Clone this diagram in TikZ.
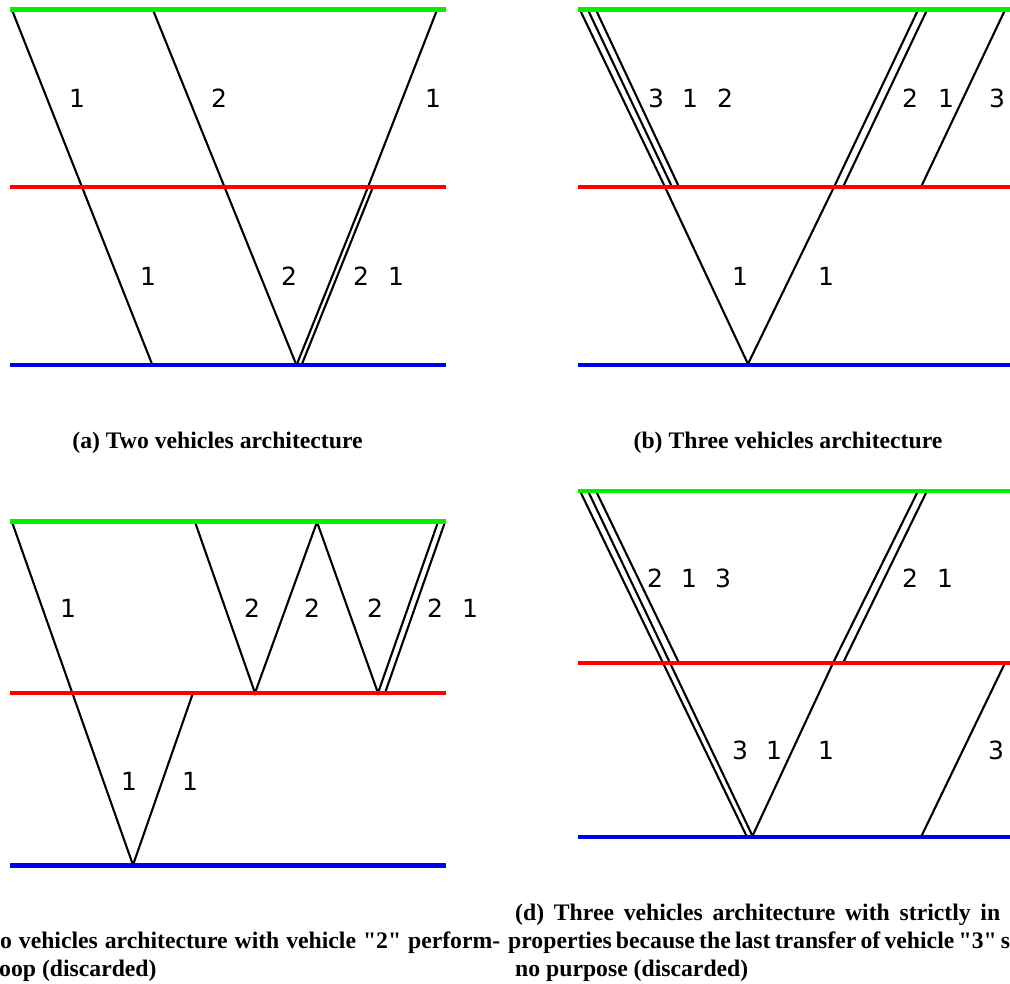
\documentclass[tikz,border=0pt]{standalone}
\usepackage{fontspec}
\newfontfamily\labfont{DejaVu Sans}
\newfontfamily\capfont{Liberation Serif}
\tikzset{
  lvl/.style={line width=4.8pt},
  grn/.style={lvl, draw={rgb,255:red,0;green,240;blue,0}},
  rd/.style={lvl, draw={rgb,255:red,255;green,0;blue,0}},
  bl/.style={lvl, draw={rgb,255:red,0;green,0;blue,235}},
  veh/.style={line width=2.1pt, draw=black},
  lbl/.style={font=\labfont\fontsize{25}{28}\selectfont, inner sep=0pt, anchor=center},
  captxt/.style={font=\capfont\bfseries\fontsize{23.7}{28}\selectfont, inner sep=0pt}
}
\begin{document}
\begin{tikzpicture}[x=1pt,y=-1pt]
\useasboundingbox (0,0) rectangle (1010,984);
\clip (0,0) rectangle (1010,984);
\fill[white] (0,0) rectangle (1010,984);

% ---------- (a) ----------
\coordinate (aG1) at (12,10);   \coordinate (aB1) at (152,364);
\coordinate (aG2) at (153,10);  \coordinate (aB2) at (296,364);
\coordinate (aG3) at (437,10);  \coordinate (aR3) at (368,187);
\coordinate (aR4) at (373,187); \coordinate (aB3) at (297,364);
\coordinate (aB4) at (302,364);
\draw[veh] (aG1) -- (aB1);
\draw[veh] (aG2) -- (aB2);
\draw[veh] (aG3) -- (aR3) -- (aB3);
\draw[veh] (aR4) -- (aB4);
\draw[grn] (10,9.5) coordinate (aGl) -- (446,9.5) coordinate (aGr);
\draw[rd] (10,187) coordinate (aRl) -- (446,187) coordinate (aRr);
\draw[bl] (10,365) coordinate (aBl) -- (446,365) coordinate (aBr);
\node[lbl] (la1) at (77,98) {1};
\node[lbl] (la2) at (219,98) {2};
\node[lbl] (la3) at (433,98) {1};
\node[lbl] (la4) at (148,276) {1};
\node[lbl] (la5) at (289,276) {2};
\node[lbl] (la6) at (361,276) {2};
\node[lbl] (la7) at (396,276) {1};
\node[captxt, anchor=base] (capa) at (217.5,448) {(a) Two vehicles architecture};

% ---------- (b) ----------
\coordinate (bG1) at (580,10); \coordinate (bR1) at (665,187); \coordinate (bBv) at (748,364);
\coordinate (bG2) at (588,10); \coordinate (bR2) at (672,187);
\coordinate (bG3) at (596,10); \coordinate (bR3) at (679,187);
\coordinate (bR4) at (834,187); \coordinate (bG4) at (918,10);
\coordinate (bR5) at (843,187); \coordinate (bG5) at (927,10);
\coordinate (bR6) at (921,187); \coordinate (bG6) at (1005,10);
\draw[veh] (bG1) -- (bR1) -- (bBv) -- (bR4) -- (bG4);
\draw[veh] (bG2) -- (bR2);
\draw[veh] (bG3) -- (bR3);
\draw[veh] (bR5) -- (bG5);
\draw[veh] (bR6) -- (bG6);
\draw[grn] (578,9.5) -- (1012,9.5);
\draw[rd] (578,187) -- (1012,187);
\draw[bl] (578,365) -- (1012,365);
\node[lbl] (lb1) at (656,98) {3};
\node[lbl] (lb2) at (690,98) {1};
\node[lbl] (lb3) at (725,98) {2};
\node[lbl] (lb4) at (910,98) {2};
\node[lbl] (lb5) at (946,98) {1};
\node[lbl] (lb6) at (997,98) {3};
\node[lbl] (lb7) at (740,276) {1};
\node[lbl] (lb8) at (826,276) {1};
\node[captxt, anchor=base] (capb) at (788,448) {(b) Three vehicles architecture};

% ---------- (c) ----------
\coordinate (cG1) at (12,522); \coordinate (cB1) at (133,865); \coordinate (cR1) at (193,693);
\coordinate (cG2) at (195,522); \coordinate (cR2) at (255,693); \coordinate (cG3) at (317,522);
\coordinate (cR3) at (378,693); \coordinate (cG4) at (438,522);
\coordinate (cR4) at (385,693); \coordinate (cG5) at (445,522);
\draw[veh] (cG1) -- (cB1) -- (cR1);
\draw[veh] (cG2) -- (cR2) -- (cG3) -- (cR3) -- (cG4);
\draw[veh] (cR4) -- (cG5);
\draw[grn] (10,521.5) -- (446,521.5);
\draw[rd] (10,693) -- (446,693);
\draw[bl] (10,865.5) -- (446,865.5);
\node[lbl] (lc1) at (68,608) {1};
\node[lbl] (lc2) at (252,608) {2};
\node[lbl] (lc3) at (312,608) {2};
\node[lbl] (lc4) at (375,608) {2};
\node[lbl] (lc5) at (435,608) {2};
\node[lbl] (lc6) at (470,608) {1};
\node[lbl] (lc7) at (129,781) {1};
\node[lbl] (lc8) at (190,781) {1};
\node[captxt, anchor=base west] (capc1) at (0,948) {\makebox[500pt][s]{o vehicles architecture with vehicle "2" perform-}};
\node[captxt, anchor=base west] (capc2) at (-1,976) {oop (discarded)};

% ---------- (d) ----------
\coordinate (dG1) at (580,491); \coordinate (dR1) at (665,663); \coordinate (dB1) at (747,837);
\coordinate (dG2) at (588,491); \coordinate (dR2) at (672,663); \coordinate (dB2) at (753,837);
\coordinate (dG3) at (596,491); \coordinate (dR3) at (679,663);
\coordinate (dBv) at (752,837); \coordinate (dR4) at (833,663); \coordinate (dG4) at (918,491);
\coordinate (dR5) at (843,663); \coordinate (dG5) at (927,491);
\coordinate (dB6) at (921,837); \coordinate (dR6) at (1005,663);
\draw[veh] (dG1) -- (dB1);
\draw[veh] (dG2) -- (dB2);
\draw[veh] (dG3) -- (dR3);
\draw[veh] (dBv) -- (dR4) -- (dG4);
\draw[veh] (dR5) -- (dG5);
\draw[veh] (dB6) -- (dR6);
\draw[grn] (578,491) -- (1012,491);
\draw[rd] (578,663) -- (1012,663);
\draw[bl] (578,837) -- (1012,837);
\node[lbl] (ld1) at (655,578) {2};
\node[lbl] (ld2) at (689,578) {1};
\node[lbl] (ld3) at (723,578) {3};
\node[lbl] (ld4) at (910,578) {2};
\node[lbl] (ld5) at (945,578) {1};
\node[lbl] (ld6) at (740,750) {3};
\node[lbl] (ld7) at (774,750) {1};
\node[lbl] (ld8) at (826,750) {1};
\node[lbl] (ld9) at (996,750) {3};
\node[captxt, anchor=base west] (capd1) at (515,920) {\makebox[485pt][s]{(d) Three vehicles architecture with strictly in}};
\node[captxt, anchor=base west] (capd2) at (508,948) {\makebox[502pt][s]{properties because the last transfer of vehicle "3" s}};
\node[captxt, anchor=base west] (capd3) at (515,976) {no purpose (discarded)};
\end{tikzpicture}
\end{document}
